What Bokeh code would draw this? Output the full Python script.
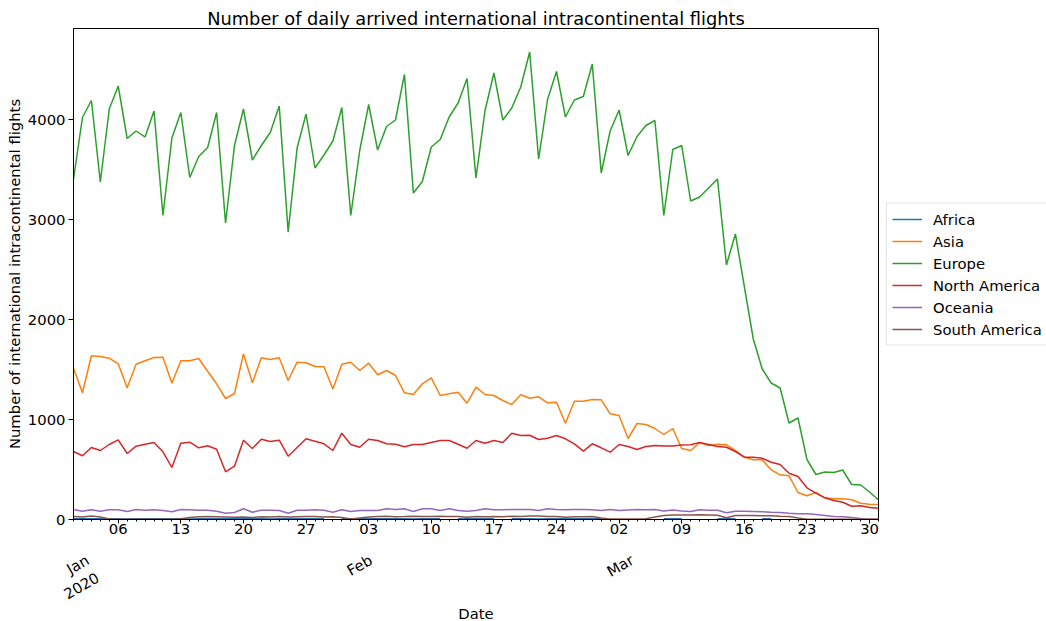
import numpy as np
import pandas as pd
from bokeh.plotting import figure
from bokeh.models import (Range1d, FixedTicker, DatetimeTickFormatter, Legend,
                          LegendItem, ColumnDataSource, DatetimeAxis)
from bokeh.embed import file_html
from bokeh.resources import INLINE

# ---------------- data ----------------
start_date = "2020-01-01"
n_days = 91

continents = ["Africa", "Asia", "Europe", "North America", "Oceania", "South America"]
colors = ["#1f77b4", "#ff7f0e", "#2ca02c", "#d62728", "#9467bd", "#8c564b"]

nan = float("nan")
africa = [7, 7, 8, 7, 7, 7, 6, 7, 7, 8, 7, 7, 7, 6, 7, 7, 7, 8, 7, 7, 7, 7, 6, 7, 7, 7, 8, 7, 7, nan, 7,
          7, 7, 8, 7, 7, 7, 7, 6, 7, 7, 7, nan, 7, 7, 7, 8, 7, nan, 7, 7, 7, 6, 7, 7, 7, 8, 7, 7, 7,
          nan, nan, nan, nan, nan, nan, 7, 8, 7, nan, nan, nan, 7, 7, 7, nan, nan, 7, 7, nan,
          nan, nan, nan, nan, nan, nan, nan, nan, nan, nan, nan]
asia = [1513, 1267, 1637, 1630, 1613, 1557, 1317, 1553, 1587, 1620, 1623, 1363, 1587, 1587, 1610, 1483,
        1357, 1210, 1260, 1657, 1367, 1617, 1600, 1617, 1390, 1573, 1567, 1530, 1527, 1305, 1553,
        1573, 1490, 1563, 1447, 1490, 1440, 1267, 1250, 1357, 1417, 1240, 1257, 1273, 1163, 1323,
        1250, 1240, 1190, 1150, 1247, 1213, 1227, 1167, 1173, 963, 1183, 1183, 1200, 1197,
        1057, 1040, 810, 960, 950, 910, 850, 910, 710, 690, 767, 740, 753, 747, 690, 623, 597, 597,
        497, 447, 437, 270, 237, 270, 217, 207, 207, 197, 163, 153, 150]
europe = [3400, 4020, 4190, 3375, 4105, 4335, 3810, 3885, 3825, 4085, 3040, 3815, 4070, 3420, 3630,
          3720, 4070, 2965, 3740, 4105, 3595, 3740, 3870, 4135, 2875, 3715, 4055, 3515, 3645, 3785, 4120,
          3040, 3690, 4150, 3695, 3930, 3995, 4450, 3265, 3380, 3725, 3800, 4025, 4165, 4410, 3415,
          4085, 4465, 3995, 4115, 4325, 4675, 3605, 4200, 4480, 4025, 4195, 4230, 4555, 3465,
          3885, 4095, 3640, 3830, 3940, 3990, 3040, 3700, 3740, 3185, 3225, 3315, 3405, 2545, 2855,
          2330, 1805, 1505, 1365, 1315, 965, 1015, 600, 450, 475, 470, 495, 350, 345, 275, 195]
north_america = [680, 637, 720, 690, 750, 797, 660, 733, 753, 770, 677, 520, 763, 773, 717, 737, 703,
                 477, 533, 793, 710, 803, 780, 793, 633, 720, 807, 783, 757, 690, 863,
                 750, 723, 803, 790, 757, 753, 727, 750, 750, 770, 790, 790, 753, 713, 790, 763, 790,
                 770, 863, 840, 843, 800, 813, 840, 807, 757, 683, 757, 717,
                 673, 750, 730, 700, 730, 740, 735, 735, 745, 747, 770, 750, 730, 723, 680, 623, 623,
                 613, 573, 550, 463, 430, 317, 263, 217, 190, 173, 133, 137, 120, 113]
oceania = [100, 83, 97, 83, 97, 97, 80, 100, 93, 97, 90, 77, 100, 97, 93, 93, 83, 63, 70, 107, 73, 93,
           93, 90, 63, 93, 93, 97, 93, 73, 97,
           80, 90, 90, 90, 107, 100, 107, 80, 107, 107, 90, 107, 90, 83, 90, 107, 97, 97, 100, 100,
           100, 90, 107, 100, 97, 100, 100, 97, 90,
           100, 90, 95, 100, 98, 100, 85, 95, 85, 80, 97, 93, 93, 67, 83, 83, 80, 77, 73, 70, 63,
           57, 57, 50, 40, 30, 27, 20, 10, 3, 3]
south_america = [30, 25, 35, 25, 5, 2, 2, 2, 2, 2, 2, 3, 8, 20, 28, 30, 28, 25, 22, 25, 20, 28, 25, 30,
                 25, 28, 30, 30, 25, 28, 20,
                 5, 15, 25, 30, 32, 28, 30, 33, 30, 30, 32, 30, 30, 22, 30, 28, 30, 28, 33, 30, 35,
                 35, 30, 30, 22, 28, 28, 30, 15,
                 5, 5, 5, 5, 8, 25, 40, 45, 45, 45, 47, 45, 42, 17, 40, 40, 40, 37, 37, 33, 30, 15,
                 3, 2, 2, 2, 2, 2, 2, 2, 2]

series = [africa, asia, europe, north_america, oceania, south_america]

y_ticks = [0, 1000, 2000, 3000, 4000]
y_max = 4910
month_starts = ["2020-01-01", "2020-02-01", "2020-03-01"]
month_texts = ["\nJan\n2020", "Feb", "Mar"]

title_text = "Number of daily arrived international intracontinental flights"
x_label = "Date"
y_label = "Number of international intracontinental flights"

# ---------------- figure ----------------
FONT = "DejaVu Sans"
FS = "14.8px"

dates = pd.date_range(start_date, periods=n_days, freq="D")
data = {"date": dates}
for name, vals in zip(continents, series):
    data[name] = np.array(vals, dtype=float)
src = ColumnDataSource(data)

p = figure(frame_width=805, frame_height=491, x_axis_type="datetime", output_backend="svg",
           toolbar_location=None, x_range=Range1d(dates[0], dates[-1]),
           y_range=Range1d(0, y_max), min_border_left=73, min_border_right=0,
           min_border_top=28, min_border_bottom=100, title=title_text)

p.title.text_font = FONT
p.title.text_font_size = "17.8px"
p.title.text_font_style = "normal"
p.title.text_color = "black"
p.title.align = "center"
p.title.standoff = 0

p.xgrid.visible = False
p.ygrid.visible = False
p.outline_line_color = "black"
p.outline_line_width = 1

renderers = []
for name, col in zip(continents, colors):
    r = p.line(x="date", y=name, source=src, line_color=col, line_width=1.5)
    renderers.append(r)

# x axis (day numbers)
ms = (dates.astype("int64") // 10**6).tolist()
mondays = [m for m, d in zip(ms, dates) if d.dayofweek == 0]
p.xaxis.ticker = FixedTicker(ticks=mondays, minor_ticks=ms)
p.xaxis.formatter = DatetimeTickFormatter(days="%d", months="%d", years="%d", hours="%d",
                                          hourmin="%d", strip_leading_zeros=False)
p.xaxis.major_tick_out = 4
p.xaxis.major_tick_in = 0
p.xaxis.minor_tick_out = 2
p.xaxis.minor_tick_in = 0
p.xaxis.major_label_standoff = 0

# month axis (rotated labels); the label anchor (right end) sits a few px right of the month start
PX_PER_DAY = 8.94
label_shift_px = [14, 20, 22]
month_ms = [int(pd.Timestamp(m).value // 10**6) + int(s / PX_PER_DAY * 86400000)
            for m, s in zip(month_starts, label_shift_px)]
month_axis = DatetimeAxis(ticker=FixedTicker(ticks=month_ms, minor_ticks=[]),
                          major_label_overrides={m: t for m, t in zip(month_ms, month_texts)},
                          major_label_orientation=np.pi / 6,
                          major_tick_out=0, major_tick_in=0, major_label_standoff=22,
                          axis_label=x_label, axis_label_standoff=-25)
p.add_layout(month_axis, "below")

# y axis
p.yaxis.ticker = FixedTicker(ticks=y_ticks)
p.yaxis.major_tick_out = 5
p.yaxis.major_tick_in = 0
p.yaxis.minor_tick_out = 0
p.yaxis.minor_tick_in = 0
p.yaxis.major_label_standoff = 3
p.yaxis.axis_label = y_label
p.yaxis.axis_label_standoff = 2

for ax in (p.xaxis[0], month_axis, p.yaxis[0]):
    is_month = ax is month_axis
    ax.axis_line_color = None if is_month else "black"
    ax.major_tick_line_color = None if is_month else "black"
    ax.minor_tick_line_color = None if is_month else "black"
    ax.major_label_text_font = FONT
    ax.major_label_text_font_size = FS
    ax.major_label_text_color = "black"
    ax.axis_label_text_font = FONT
    ax.axis_label_text_font_size = FS
    ax.axis_label_text_font_style = "normal"
    ax.axis_label_text_color = "black"

# legend
items = [LegendItem(label=n, renderers=[r]) for n, r in zip(continents, renderers)]
legend = Legend(items=items, location="center_left", label_text_font=FONT, label_text_font_size=FS,
                label_text_color="black", glyph_width=30, glyph_height=21, label_height=21,
                spacing=1, padding=5, label_standoff=11, border_line_color="#cccccc",
                background_fill_color="white", background_fill_alpha=0.8, margin=8)
p.add_layout(legend, "right")

open("out.html", "w").write(file_html(p, INLINE))
